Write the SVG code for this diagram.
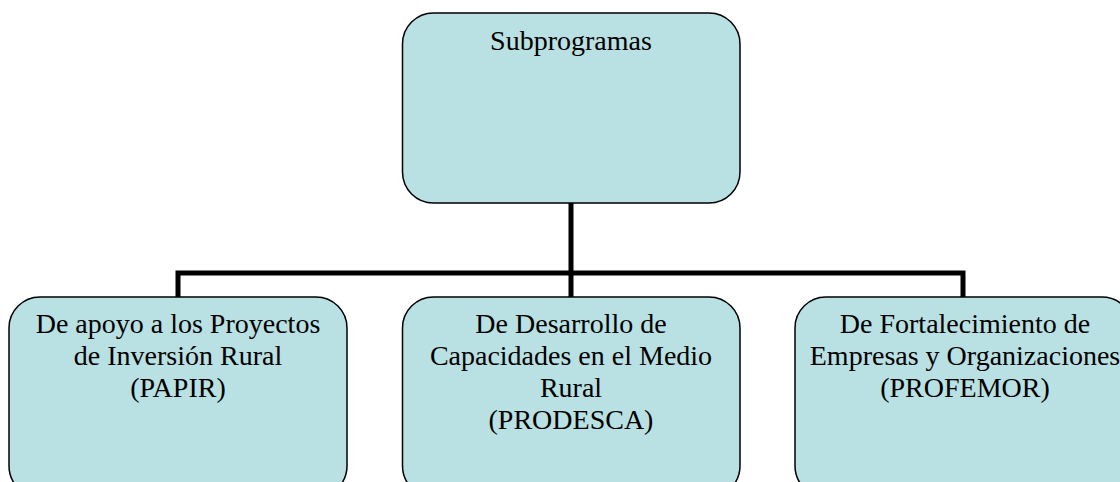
<svg xmlns="http://www.w3.org/2000/svg" width="1120" height="482" viewBox="0 0 1120 482">
<style>
.box{fill:#b9e0e3;stroke:#000;stroke-width:1.5}
.t{font-family:"Liberation Serif","Times New Roman",serif;font-size:28px;fill:#000;text-anchor:middle}
.c{fill:none;stroke:#000;stroke-width:5}
</style>
<rect width="1120" height="482" fill="#fff"/>
<g id="connectors">
<line class="c" x1="571" y1="203" x2="571" y2="298"/>
<polyline class="c" points="178,298 178,273 963,273 963,298"/>
</g>
<g id="subprogramas">
<rect class="box" x="402.5" y="13" width="337.5" height="190" rx="31" ry="31"/>
<text class="t" x="571" y="50">Subprogramas</text>
</g>
<g id="papir">
<rect class="box" x="9" y="297" width="338" height="200" rx="31" ry="31"/>
<text class="t" x="178" y="333">De apoyo a los Proyectos</text>
<text class="t" x="178" y="365">de Inversión Rural</text>
<text class="t" x="178" y="397">(PAPIR)</text>
</g>
<g id="prodesca">
<rect class="box" x="402.5" y="297" width="337.5" height="200" rx="31" ry="31"/>
<text class="t" x="571" y="333">De Desarrollo de</text>
<text class="t" x="571" y="365">Capacidades en el Medio</text>
<text class="t" x="571" y="397">Rural</text>
<text class="t" x="571" y="429">(PRODESCA)</text>
</g>
<g id="profemor">
<rect class="box" x="795" y="297" width="338" height="200" rx="31" ry="31"/>
<text class="t" x="965" y="333">De Fortalecimiento de</text>
<text class="t" x="965" y="365">Empresas y Organizaciones</text>
<text class="t" x="965" y="397">(PROFEMOR)</text>
</g>
</svg>
